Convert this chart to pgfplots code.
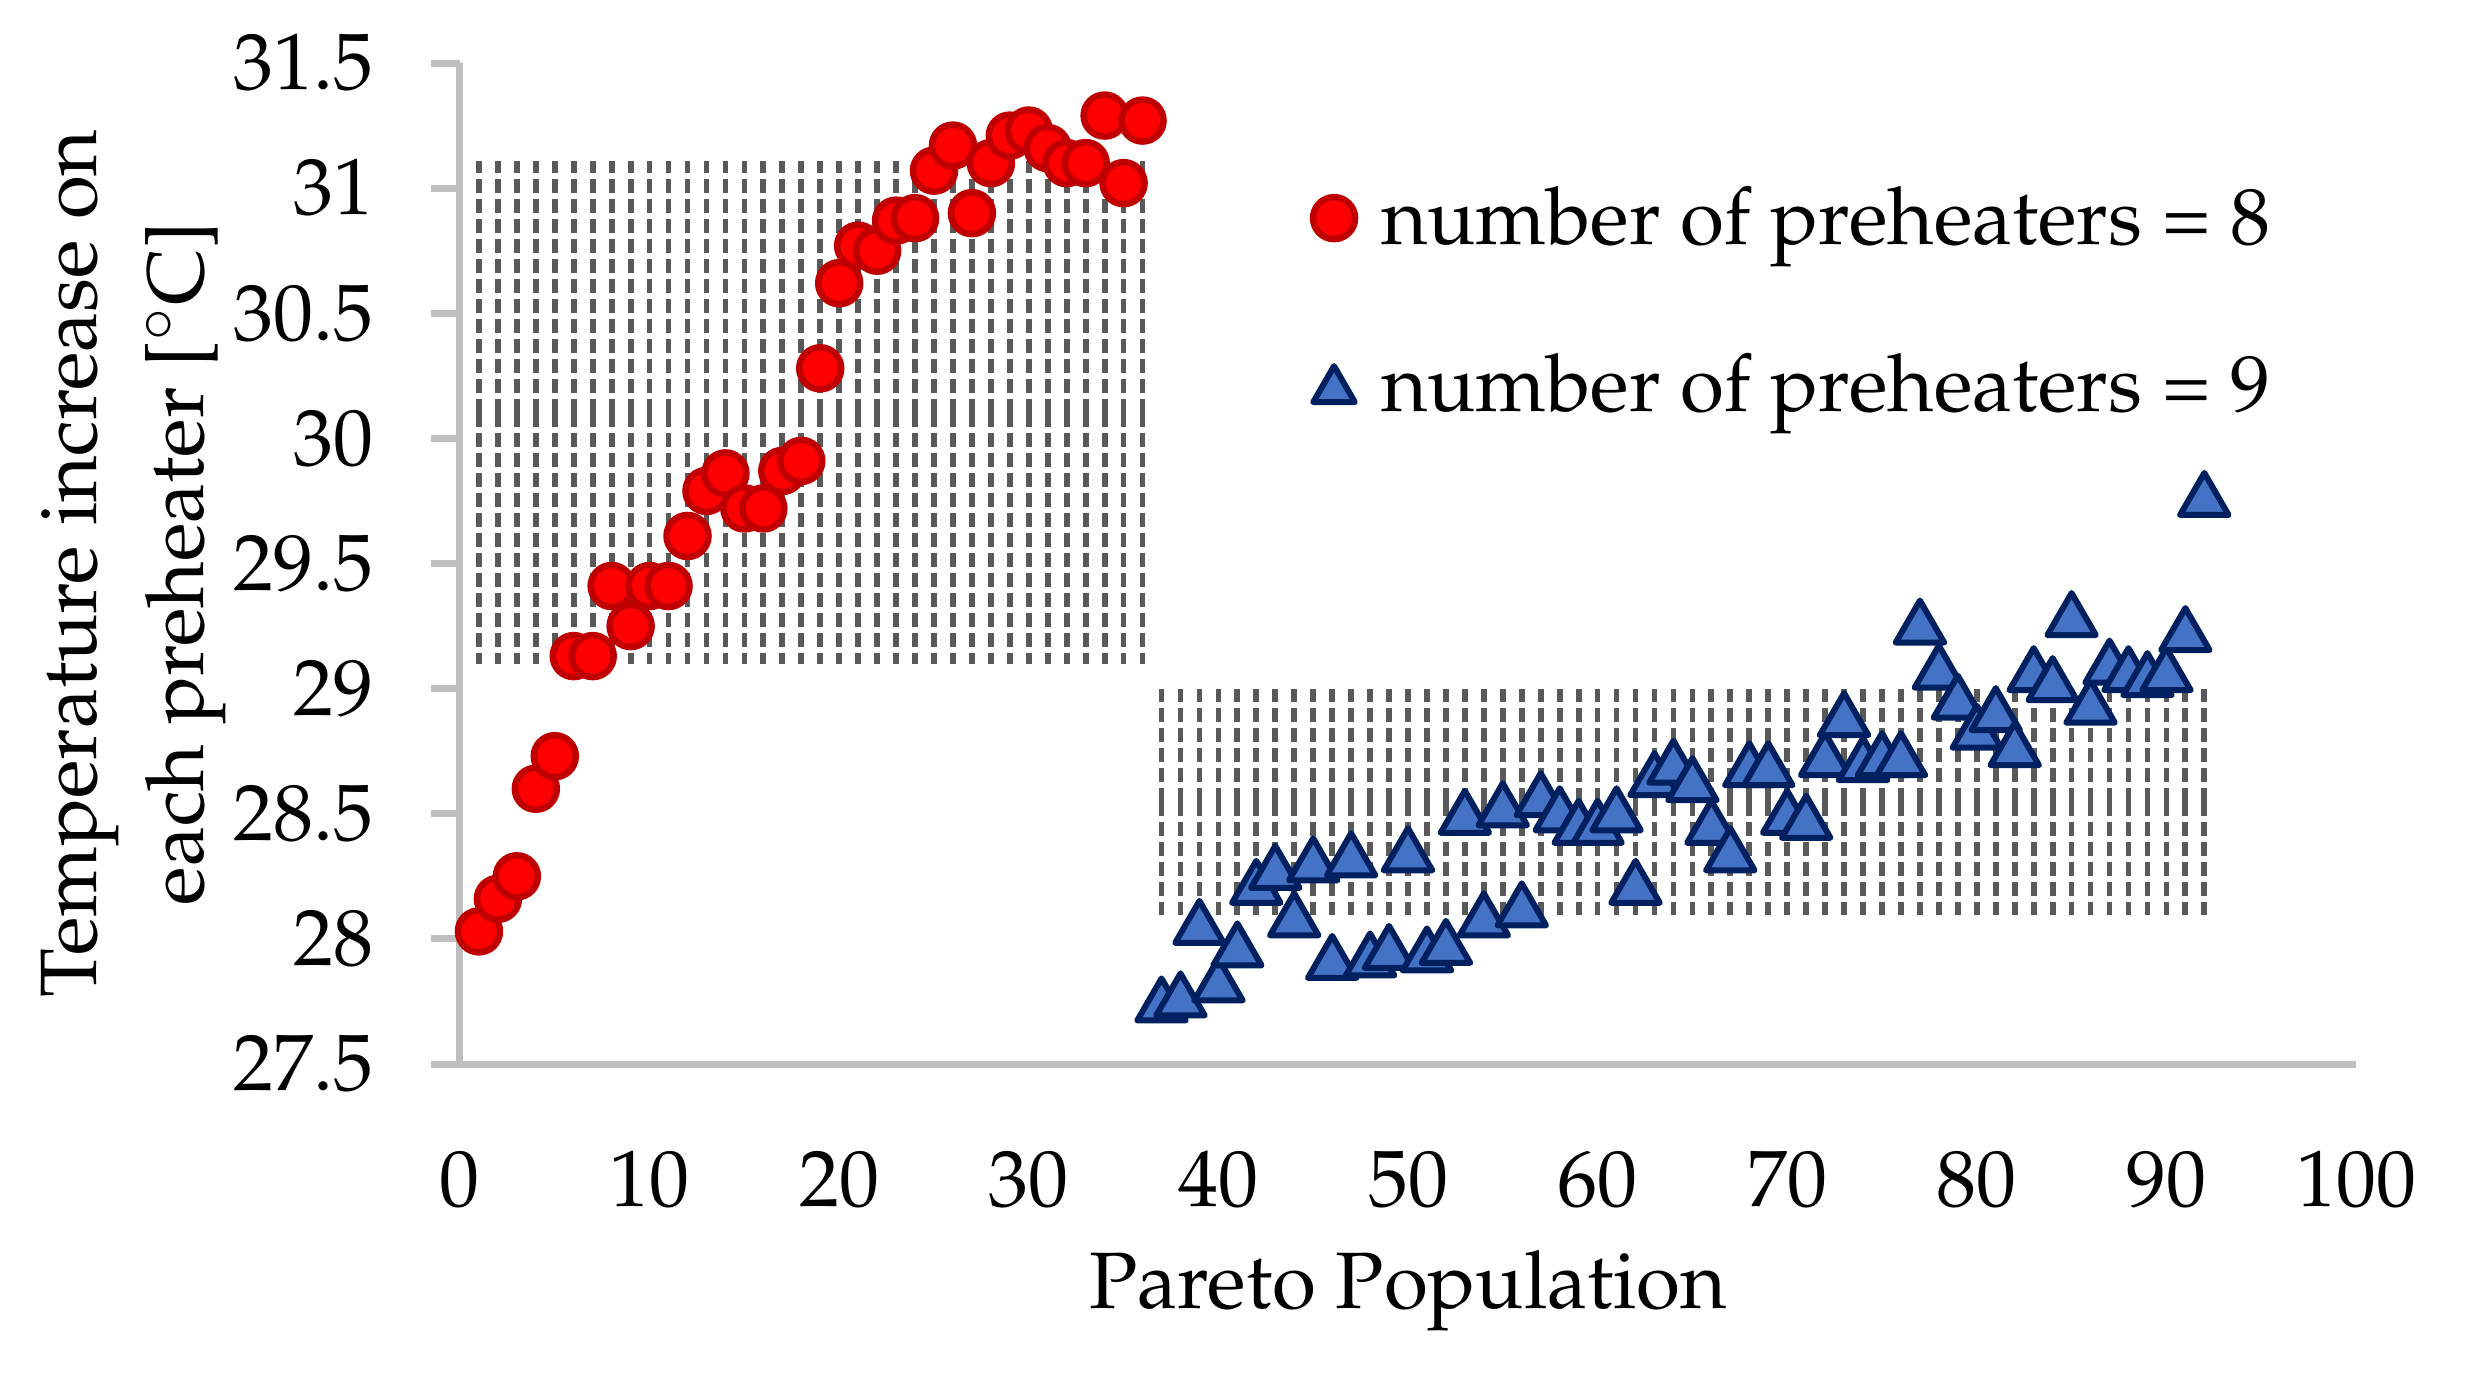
\documentclass[border=0pt]{standalone}
\usepackage[T1]{fontenc}
\usepackage{mathpazo}
\usepackage{pgfplots}
\pgfplotsset{compat=1.18}
\definecolor{axgray}{HTML}{BFBFBF}
\definecolor{hatch}{HTML}{595959}
\definecolor{redfill}{HTML}{FF0000}
\definecolor{reddraw}{HTML}{C00000}
\definecolor{bluefill}{HTML}{4472C4}
\definecolor{bluedraw}{HTML}{002060}
\newcommand{\chartfont}{\fontsize{16bp}{19bp}\selectfont}
\pgfplotsset{
  redleg/.style={legend image code/.code={\draw[##1, yshift=5.2bp] plot coordinates {(0bp,0bp)};}},
  blueleg/.style={legend image code/.code={\draw[##1, mark size=4.8bp, yshift=4.2bp] plot coordinates {(0bp,0bp)};}},
}

\pgfplotstableread{
x y
1 28.03
2 28.16
3 28.25
4 28.60
5 28.73
6 29.13
7 29.13
8 29.41
9 29.25
10 29.41
11 29.41
12 29.61
13 29.79
14 29.86
15 29.72
16 29.72
17 29.87
18 29.91
19 30.28
20 30.62
21 30.77
22 30.75
23 30.87
24 30.88
25 31.07
26 31.17
27 30.90
28 31.10
29 31.21
30 31.23
31 31.16
32 31.10
33 31.10
34 31.29
35 31.02
36 31.27
}\redtable

\pgfplotstableread{
x y
37 27.73
38 27.75
39 28.04
40 27.81
41 27.95
42 28.20
43 28.26
44 28.07
45 28.29
46 27.90
47 28.31
48 27.91
49 27.94
50 28.33
51 27.93
52 27.96
53 28.48
54 28.07
55 28.51
56 28.11
57 28.55
58 28.49
59 28.44
60 28.44
61 28.49
62 28.20
63 28.63
64 28.68
65 28.61
66 28.44
67 28.33
68 28.67
69 28.67
70 28.48
71 28.46
72 28.71
73 28.87
74 28.69
75 28.71
76 28.71
77 29.24
78 29.06
79 28.94
80 28.82
81 28.89
82 28.75
83 29.05
84 29.01
85 29.27
86 28.92
87 29.08
88 29.05
89 29.03
90 29.05
91 29.21
92 29.75
}\bluetable

% centres of the dashed vertical hatch strips (half-height given as fixed error)
\pgfplotstableread{
x y
1 30.103
2 30.103
3 30.103
4 30.103
5 30.103
6 30.103
7 30.103
8 30.103
9 30.103
10 30.103
11 30.103
12 30.103
13 30.103
14 30.103
15 30.103
16 30.103
17 30.103
18 30.103
19 30.103
20 30.103
21 30.103
22 30.103
23 30.103
24 30.103
25 30.103
26 30.103
27 30.103
28 30.103
29 30.103
30 30.103
31 30.103
32 30.103
33 30.103
34 30.103
35 30.103
36 30.103
}\hatchA

\pgfplotstableread{
x y
37 28.547
38 28.547
39 28.547
40 28.547
41 28.547
42 28.547
43 28.547
44 28.547
45 28.547
46 28.547
47 28.547
48 28.547
49 28.547
50 28.547
51 28.547
52 28.547
53 28.547
54 28.547
55 28.547
56 28.547
57 28.547
58 28.547
59 28.547
60 28.547
61 28.547
62 28.547
63 28.547
64 28.547
65 28.547
66 28.547
67 28.547
68 28.547
69 28.547
70 28.547
71 28.547
72 28.547
73 28.547
74 28.547
75 28.547
76 28.547
77 28.547
78 28.547
79 28.547
80 28.547
81 28.547
82 28.547
83 28.547
84 28.547
85 28.547
86 28.547
87 28.547
88 28.547
89 28.547
90 28.547
91 28.547
92 28.547
}\hatchB

\begin{document}
\begin{tikzpicture}
\useasboundingbox (-92bp,-61.8bp) rectangle (401bp,212.8bp);
\begin{axis}[
  at={(0,0)}, anchor=south west,
  scale only axis, width=379.2bp, height=200.2bp,
  xmin=0, xmax=100, ymin=27.5, ymax=31.5,
  axis x line*=bottom, axis y line*=left,
  axis line style={draw=axgray, line width=1.4bp, -},
  xtick={0,10,20,30,40,50,60,70,80,90,100},
  ytick={27.5,28,28.5,29,29.5,30,30.5,31,31.5},
  yticklabels={27.5,28,28.5,29,29.5,30,30.5,31,31.5},
  tick align=outside, major tick length=5.8bp,
  ytick style={draw=axgray, line width=1.4bp},
  xtick style={draw=none},
  tick label style={font=\chartfont},
  yticklabel style={anchor=east, inner sep=0pt, xshift=-11.2bp},
  xticklabel style={anchor=base, inner sep=0pt, yshift=-22.6bp},
  every axis x label/.style={at={(rel axis cs:0.5,0)}, anchor=base, yshift=-48.8bp, inner sep=0pt, font=\chartfont},
  every axis y label/.style={at={(rel axis cs:0,0.5)}, xshift=-46.5bp, rotate=90, anchor=south, inner sep=0pt, align=center, font=\fontsize{16bp}{21.5bp}\selectfont},
  xlabel={Pareto Population},
  ylabel={Temperature increase on\\each preheater [$^{\circ}$C]},
  legend style={at={(axis cs:44.94,31.02)}, anchor=north west, draw=none, fill=none, inner sep=0pt, row sep=16.9bp, font=\chartfont, cells={anchor=base west}, nodes={inner sep=0pt, text height=12bp, text depth=4.5bp}, /tikz/every odd column/.append style={column sep=5.2bp}},
  clip=false,
]
\addplot[forget plot, draw=none, mark=none,
  error bars/.cd, y dir=both, y fixed=1.006, error mark=none,
  error bar style={draw=hatch, solid, line width=1.15bp, dash pattern=on 2.8bp off 1.2bp}]
  table {\hatchA};
\addplot[forget plot, draw=none, mark=none,
  error bars/.cd, y dir=both, y fixed=0.452, error mark=none,
  error bar style={draw=hatch, solid, line width=1.15bp, dash pattern=on 2.8bp off 1.2bp}]
  table {\hatchB};

\addplot[only marks, mark=*, mark size=4.2bp,
  mark options={fill=redfill, draw=reddraw, line width=1.3bp}, redleg]
  table {\redtable};
\addlegendentry{number of preheaters = 8}

\addplot[only marks, mark=triangle*, mark size=5.6bp,
  mark options={fill=bluefill, draw=bluedraw, line width=1.2bp, line join=round}, blueleg]
  table {\bluetable};
\addlegendentry{number of preheaters = 9}
\end{axis}
\end{tikzpicture}
\end{document}
